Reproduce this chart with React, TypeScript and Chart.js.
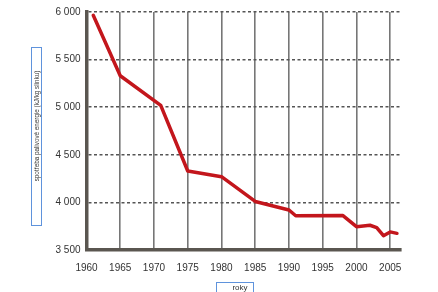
import React, { useEffect, useRef } from "react";
import { Chart, registerables } from "chart.js";

Chart.register(...registerables);

const years = [1961, 1965, 1971, 1975, 1980, 1985, 1990, 1991, 1998, 2000, 2002, 2003, 2004, 2005, 2006];
const energy = [5965, 5330, 5020, 4330, 4270, 4010, 3920, 3860, 3862, 3745, 3760, 3735, 3650, 3690, 3675];
const xTickYears = [1960, 1965, 1970, 1975, 1980, 1985, 1990, 1995, 2000, 2005];
const yTickValues = [3500, 4000, 4500, 5000, 5500, 6000];
const yAxisTitle = "spotřeba palivové energie (kJ/kg slinku)";
const xAxisTitle = "roky";

const FONT = "'Liberation Sans', Arial, sans-serif";

const boxesPlugin = {
  id: "boxes",
  afterDraw(chart: any) {
    const ctx = chart.ctx;
    ctx.save();
    ctx.strokeStyle = "#5f93dc";
    ctx.lineWidth = 1;
    ctx.strokeRect(31.5, 47.5, 10, 178);
    ctx.strokeRect(216.5, 282.5, 37, 14);
    ctx.fillStyle = "#333";
    ctx.font = `6.3px ${FONT}`;
    ctx.textAlign = "center";
    ctx.textBaseline = "middle";
    ctx.translate(37, 126);
    ctx.rotate(-Math.PI / 2);
    ctx.fillText(yAxisTitle, 0, 0);
    ctx.restore();
    ctx.save();
    ctx.fillStyle = "#333";
    ctx.font = `8px ${FONT}`;
    ctx.textAlign = "center";
    ctx.textBaseline = "middle";
    ctx.fillText(xAxisTitle, 240, 287.5);
    ctx.restore();
  },
};

export default function App() {
  const ref = useRef<HTMLCanvasElement>(null);
  useEffect(() => {
    if (!ref.current) return;
    const chart = new Chart(ref.current, {
      type: "line",
      data: {
        datasets: [
          {
            data: years.map((y, i) => ({ x: y, y: energy[i] })),
            borderColor: "#c3161c",
            borderWidth: 3.5,
            pointRadius: 0,
            tension: 0,
            borderJoinStyle: "round",
            borderCapStyle: "round",
          },
        ],
      },
      options: {
        animation: false,
        responsive: false,
        layout: { padding: { left: 0, top: 12, right: 37, bottom: 0 } },
        plugins: { legend: { display: false }, tooltip: { enabled: false } },
        scales: {
          x: {
            type: "linear",
            min: 1960,
            max: 2006.6,
            afterBuildTicks: (s: any) => {
              s.ticks = xTickYears.map((v) => ({ value: v }));
            },
            afterFit: (s: any) => {
              s.height = 42;
            },
            ticks: {
              font: { family: FONT, size: 10 },
              color: "#333",
              padding: 12,
              maxRotation: 0,
              autoSkip: false,
              callback: (v: any) => String(v),
            },
            grid: {
              drawTicks: false,
              color: (c: any) => (c.tick && c.tick.value === 1960 ? "rgba(0,0,0,0)" : "#767676"),
              lineWidth: 1.6,
            },
            border: { display: true, color: "#5a5650", width: 3.5 },
          },
          y: {
            type: "linear",
            min: 3500,
            max: 6000,
            afterBuildTicks: (s: any) => {
              s.ticks = yTickValues.map((v) => ({ value: v }));
            },
            afterFit: (s: any) => {
              s.width = 86.5;
            },
            ticks: {
              font: { family: FONT, size: 10 },
              color: "#333",
              padding: 6,
              callback: (v: any) => {
                const n = Number(v);
                return Math.floor(n / 1000) + " " + String(n % 1000).padStart(3, "0");
              },
            },
            grid: {
              drawTicks: false,
              color: (c: any) => (c.tick && c.tick.value === 3500 ? "rgba(0,0,0,0)" : "#555"),
              lineWidth: 1.5,
            },
            border: { display: true, color: "#5a5650", width: 3.5, dash: [3, 2.5] },
          },
        },
      },
      plugins: [boxesPlugin],
    } as any);
    return () => chart.destroy();
  }, []);
  return (
    <div style={{ position: "absolute", left: 0, top: 0, width: 438, height: 292, background: "#fff" }}>
      <canvas ref={ref} width={438} height={292} style={{ display: "block" }} />
    </div>
  );
}
